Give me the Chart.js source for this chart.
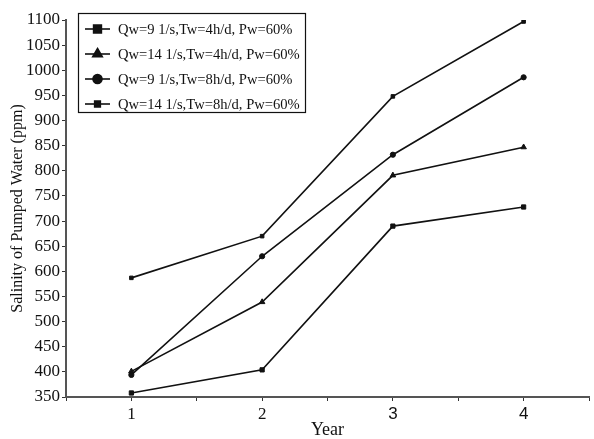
<!DOCTYPE html>
<html>
<head>
<meta charset="utf-8">
<script src="https://cdn.jsdelivr.net/npm/chart.js@4/dist/chart.umd.min.js"></script>
<style>
  html, body { margin: 0; padding: 0; background: #fff; }
  #wrap { width: 594px; height: 439px; }
</style>
</head>
<body>
<div id="wrap"><canvas id="c" width="594" height="439"></canvas></div>
<script>
// Years on the horizontal axis
const years = [1, 2, 3, 4];

// Salinity of pumped water (ppm) per scenario
const q9Tw4 = [358, 404, 690, 728];
const q14Tw4 = [401, 539, 791, 847];
const q9Tw8 = [394, 630, 832, 986];
const q14Tw8 = [587, 670, 948, 1097];

// Legend labels
const seriesLabels = [
  'Qw=9 1/s,Tw=4h/d, Pw=60%',
  'Qw=14 1/s,Tw=4h/d, Pw=60%',
  'Qw=9 1/s,Tw=8h/d, Pw=60%',
  'Qw=14 1/s,Tw=8h/d, Pw=60%'
];

// Axis range / ticks
const yMin = 350, yMax = 1100, yStep = 50;
const xMin = 0.5, xMax = 4.5, xStep = 0.5;

const serif = '"Liberation Serif", "Times New Roman", serif';
const sans = '"Liberation Sans", Arial, sans-serif';

const toPoints = (vals) => vals.map((v, i) => ({ x: years[i], y: v }));

const styles = [
  { pointStyle: 'rect', radius: 3, legendRadius: 5.5 },
  { pointStyle: 'triangle', radius: 3.2, legendRadius: 5.5 },
  { pointStyle: 'circle', radius: 2.6, legendRadius: 4.5 },
  { pointStyle: 'rect', radius: 2.5, legendRadius: 4 }
];

const seriesValues = [q9Tw4, q14Tw4, q9Tw8, q14Tw8];

const datasets = seriesValues.map((vals, i) => ({
  label: seriesLabels[i],
  data: toPoints(vals),
  borderColor: '#111',
  backgroundColor: '#111',
  borderWidth: 1.6,
  pointStyle: styles[i].pointStyle,
  pointRadius: styles[i].radius,
  pointBorderWidth: 1,
  tension: 0,
  fill: false
}));

// Boxed legend drawn inside the plot area, each entry a short line with its marker
const boxedLegend = {
  id: 'boxedLegend',
  afterDraw(chart) {
    const ctx = chart.ctx;
    const box = { x: 78.5, y: 13.5, w: 227, h: 99 };
    ctx.save();
    ctx.fillStyle = '#fff';
    ctx.fillRect(box.x, box.y, box.w, box.h);
    ctx.strokeStyle = '#111';
    ctx.lineWidth = 1.2;
    ctx.strokeRect(box.x, box.y, box.w, box.h);
    chart.data.datasets.forEach((ds, i) => {
      const cy = 29 + i * 25;
      ctx.strokeStyle = '#111';
      ctx.lineWidth = 1.6;
      ctx.beginPath();
      ctx.moveTo(85, cy);
      ctx.lineTo(110, cy);
      ctx.stroke();
      ctx.fillStyle = '#111';
      Chart.helpers.drawPoint(ctx, {
        pointStyle: styles[i].pointStyle,
        radius: styles[i].legendRadius,
        rotation: 0,
        borderWidth: 1
      }, 97.5, cy);
      ctx.fillStyle = '#111';
      ctx.font = '14.6px ' + serif;
      ctx.textBaseline = 'middle';
      ctx.textAlign = 'left';
      ctx.fillText(ds.label, 118, cy + 1);
    });
    ctx.restore();
  }
};

new Chart(document.getElementById('c'), {
  type: 'line',
  data: { datasets },
  plugins: [boxedLegend],
  options: {
    responsive: false,
    animation: false,
    devicePixelRatio: 1,
    layout: { padding: { top: 20, right: 0, left: 0, bottom: 0 } },
    plugins: {
      legend: { display: false },
      tooltip: { enabled: false }
    },
    scales: {
      x: {
        type: 'linear',
        min: xMin,
        max: xMax,
        afterBuildTicks(scale) {
          const ticks = [];
          for (let v = xMin; v <= xMax + 1e-9; v += xStep) ticks.push({ value: v });
          scale.ticks = ticks;
        },
        afterFit(scale) { scale.height = 42; },
        grid: { drawOnChartArea: false, drawTicks: true, tickLength: 4, color: '#333', lineWidth: 1 },
        border: { color: '#555', width: 2 },
        ticks: {
          autoSkip: false,
          maxRotation: 0,
          padding: 3,
          color: '#111',
          font: (ctx) => ({ family: (ctx.tick && ctx.tick.value >= 3) ? sans : serif, size: 17 }),
          callback: (v) => (Number.isInteger(v) && years.includes(v)) ? String(v) : ''
        },
        title: {
          display: true,
          text: 'Year',
          color: '#111',
          font: { family: serif, size: 18, lineHeight: 1 },
          align: 'center',
          padding: { top: 0, bottom: 0 }
        }
      },
      y: {
        min: yMin,
        max: yMax,
        afterFit(scale) { scale.width = 66; },
        grid: { drawOnChartArea: false, drawTicks: true, tickLength: 4, color: '#333', lineWidth: 1 },
        border: { color: '#555', width: 2 },
        ticks: {
          stepSize: yStep,
          padding: 2,
          color: '#111',
          font: { family: serif, size: 17 },
          callback: (v) => String(v)
        },
        title: {
          display: true,
          text: 'Salinity of Pumped Water (ppm)',
          color: '#111',
          font: { family: serif, size: 16 },
          padding: { top: 8, bottom: 0 }
        }
      }
    }
  }
});
</script>
</body>
</html>
